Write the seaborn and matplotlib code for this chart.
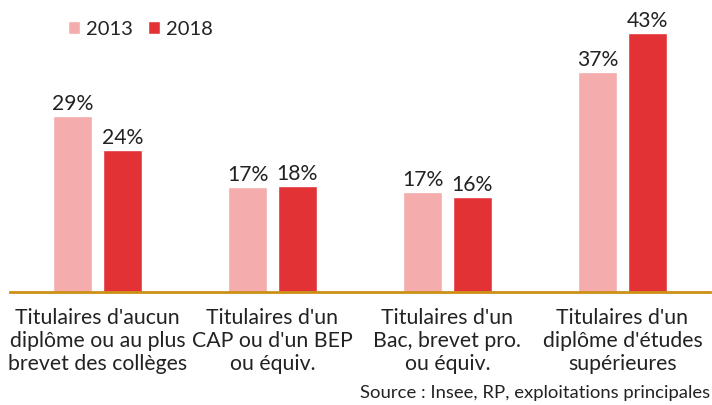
import matplotlib
matplotlib.use("Agg")
import matplotlib.pyplot as plt
import seaborn as sns
import pandas as pd
from matplotlib.patches import Patch

categories = [
    "Titulaires d'aucun\ndiplôme ou au plus\nbrevet des collèges",
    "Titulaires d'un\nCAP ou d'un BEP\nou équiv.",
    "Titulaires d'un\nBac, brevet pro.\nou équiv.",
    "Titulaires d'un\ndiplôme d'études\nsupérieures",
]
years = ["2013", "2018"]
values_2013 = [29.2, 17.4, 16.6, 36.6]
values_2018 = [23.6, 17.6, 15.8, 43.0]
labels_2013 = ["29%", "17%", "17%", "37%"]
labels_2018 = ["24%", "18%", "16%", "43%"]
colors = ["#F4ACAC", "#E23236"]

df = pd.DataFrame({
    "cat": categories * 2,
    "year": [years[0]] * 4 + [years[1]] * 4,
    "val": values_2013 + values_2018,
})

sns.set_theme(style="white")
plt.rcParams["font.family"] = ["Lato", "DejaVu Sans"]

fig = plt.figure(figsize=(7.12, 4.05), dpi=100)
ax = fig.add_axes([0.014, 0.279, 0.983, 0.669])
sns.barplot(data=df, x="cat", y="val", hue="year", palette=colors,
            width=0.57, gap=0.22, ax=ax, legend=False, saturation=1)
ax.set_xlim(-0.5, 3.5)
ax.set_ylim(0, 45)
for cont, labs in zip(ax.containers, [labels_2013, labels_2018]):
    ax.bar_label(cont, labels=labs, padding=1.5, fontsize=15.2, color="#222222")
for s in ["top", "right", "left"]:
    ax.spines[s].set_visible(False)
ax.spines["bottom"].set_color("#CC9014")
ax.spines["bottom"].set_linewidth(2)
ax.set_yticks([])
ax.set_xlabel("")
ax.set_ylabel("")
ax.tick_params(axis="x", length=0, pad=11.5, labelsize=15.3, labelcolor="#222222")
for t in ax.get_xticklabels():
    t.set_multialignment("center")
    t.set_linespacing(1.2)

handles = [Patch(facecolor=c, label=y) for c, y in zip(colors, years)]
fig.legend(handles=handles, loc="center left", bbox_to_anchor=(0.070, 0.928),
           ncol=2, frameon=False, fontsize=14.5, handlelength=0.6, handleheight=0.6,
           handletextpad=0.3, columnspacing=0.75, labelcolor="#222222")
fig.text(0.997, 0.030, "Source : Insee, RP, exploitations principales",
         ha="right", va="center", fontsize=13.3, color="#222222")
fig.savefig("out.png", dpi=100)
